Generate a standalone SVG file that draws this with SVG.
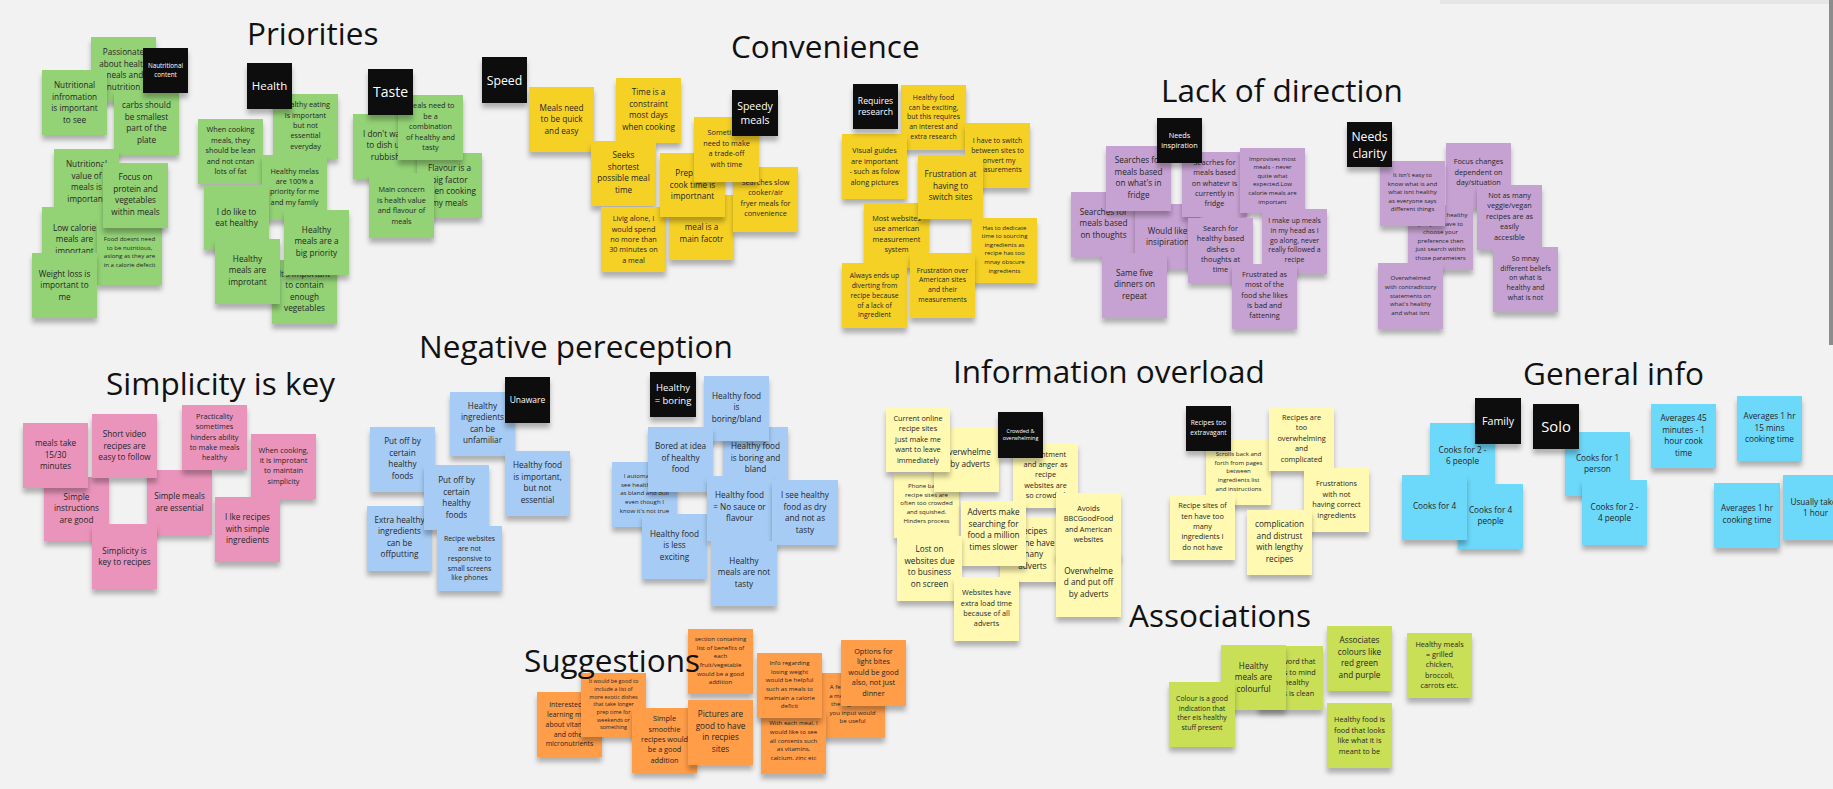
<svg xmlns="http://www.w3.org/2000/svg" width="1833" height="789" viewBox="0 0 1833 789">
<defs>
<filter id="sh" x="-15%" y="-15%" width="130%" height="140%"><feDropShadow dx="0" dy="5" stdDeviation="2.5" flood-color="#000" flood-opacity="0.28"/></filter>
<style>
text{font-family:"Open Sans","Noto Sans","Liberation Sans",sans-serif;text-anchor:middle;fill:#262626}
.n rect{filter:url(#sh)}
.g rect{fill:#93d275}.y rect{fill:#f5d128}.v rect{fill:#c6a2d2}.p rect{fill:#ea94bb}.lb rect{fill:#a6ccf5}.ly rect{fill:#fff9b1}.b rect{fill:#6cd8fa}.o rect{fill:#ff9d48}.l rect{fill:#c9df56}.k rect{fill:#0b0b0b}
.k text{fill:#fff}
.title{font-size:31.5px;text-anchor:start;fill:#111}
.t8{font-size:8.2px}.t7{font-size:7.3px}.t69{font-size:6.9px}.t6{font-size:6.1px}.t55{font-size:5.5px}
</style>
</defs>
<rect width="1833" height="789" fill="#f2f2f2"/>
<rect x="1440" y="0" width="389" height="4" fill="#e6e6e6"/>
<rect x="1829" y="0" width="4" height="345" fill="#8c8c8c"/>

<!-- Priorities -->
<g id="n-passionate" class="n g"><rect x="91" y="37" width="65" height="65"/><text class="t8" y="55"><tspan x="123.5">Passionate</tspan><tspan x="123.5" dy="11.5">about health</tspan><tspan x="123.5" dy="11.5">meals and</tspan><tspan x="123.5" dy="11.5">nutrition</tspan></text></g>
<g id="n-carbs" class="n g"><rect x="114" y="90" width="65" height="65"/><text class="t8" y="108"><tspan x="146.5">carbs should</tspan><tspan x="146.5" dy="11.5">be smallest</tspan><tspan x="146.5" dy="11.5">part of the</tspan><tspan x="146.5" dy="11.5">plate</tspan></text></g>
<g id="n-nutinfo" class="n g"><rect x="42" y="70" width="65" height="65"/><text class="t8" y="88"><tspan x="74.5">Nutritional</tspan><tspan x="74.5" dy="11.5">infromation</tspan><tspan x="74.5" dy="11.5">is important</tspan><tspan x="74.5" dy="11.5">to see</tspan></text></g>
<g id="k-nutcontent" class="n k"><rect x="143" y="48" width="45" height="45"/><text style="font-size:6.3px" y="68.3"><tspan x="165.5">Nautritional</tspan><tspan x="165.5" dy="8.7">content</tspan></text></g>
<g id="n-nutval" class="n g"><rect x="54" y="149" width="65" height="65"/><text class="t8" y="167"><tspan x="86.5">Nutritional</tspan><tspan x="86.5" dy="11.5">value of</tspan><tspan x="86.5" dy="11.5">meals is</tspan><tspan x="86.5" dy="11.5">important</tspan></text></g>
<g id="n-lowcal" class="n g"><rect x="42" y="207" width="65" height="65"/><text class="t8" y="230.8"><tspan x="74.5">Low calorie</tspan><tspan x="74.5" dy="11.5">meals are</tspan><tspan x="74.5" dy="11.5">important</tspan></text></g>
<g id="n-fooddoesnt" class="n g"><rect x="97" y="220" width="65" height="65"/><text class="t6" y="241.2"><tspan x="129.5">Food doesnt need</tspan><tspan x="129.5" dy="8.6">to be nutritious,</tspan><tspan x="129.5" dy="8.6">aslong as they are</tspan><tspan x="129.5" dy="8.6">in a calorie defecit</tspan></text></g>
<g id="n-focus" class="n g"><rect x="103" y="163" width="65" height="65"/><text class="t8" y="180"><tspan x="135.5">Focus on</tspan><tspan x="135.5" dy="11.5">protein and</tspan><tspan x="135.5" dy="11.5">vegetables</tspan><tspan x="135.5" dy="11.5">within meals</tspan></text></g>
<g id="n-weight" class="n g"><rect x="32" y="253" width="65" height="65"/><text class="t8" y="276.8"><tspan x="64.5">Weight loss is</tspan><tspan x="64.5" dy="11.5">important to</tspan><tspan x="64.5" dy="11.5">me</tspan></text></g>

<g id="n-heat" class="n g"><rect x="273" y="94" width="65" height="65"/><text class="t7" y="107.2"><tspan x="305.5">Healthy eating</tspan><tspan x="305.5" dy="10.4">is important</tspan><tspan x="305.5" dy="10.4">but not</tspan><tspan x="305.5" dy="10.4">essential</tspan><tspan x="305.5" dy="10.4">everyday</tspan></text></g>
<g id="k-health" class="n k"><rect x="247" y="63" width="45" height="46"/><text style="font-size:11.5px" x="269.5" y="90">Health</text></g>
<g id="n-whencook" class="n g"><rect x="198" y="119" width="65" height="65"/><text class="t7" y="132.4"><tspan x="230.5">When cooking</tspan><tspan x="230.5" dy="10.4">meals, they</tspan><tspan x="230.5" dy="10.4">should be lean</tspan><tspan x="230.5" dy="10.4">and not cntan</tspan><tspan x="230.5" dy="10.4">lots of fat</tspan></text></g>
<g id="n-melas" class="n g"><rect x="262" y="155" width="65" height="65"/><text class="t7" y="173.6"><tspan x="294.5">Healthy melas</tspan><tspan x="294.5" dy="10.4">are 100% a</tspan><tspan x="294.5" dy="10.4">priority for me</tspan><tspan x="294.5" dy="10.4">and my family</tspan></text></g>
<g id="n-dolike" class="n g"><rect x="204" y="185" width="65" height="65"/><text class="t8" y="214.5"><tspan x="236.5">I do like to</tspan><tspan x="236.5" dy="11.5">eat healthy</tspan></text></g>
<g id="n-contain" class="n g"><rect x="272" y="260" width="65" height="64"/><text class="t8" y="276.5"><tspan x="304.5">It's important</tspan><tspan x="304.5" dy="11.5">to contain</tspan><tspan x="304.5" dy="11.5">enough</tspan><tspan x="304.5" dy="11.5">vegetables</tspan></text></g>
<g id="n-bigprio" class="n g"><rect x="284" y="210" width="65" height="65"/><text class="t8" y="232.6"><tspan x="316.5">Healthy</tspan><tspan x="316.5" dy="11.5">meals are a</tspan><tspan x="316.5" dy="11.5">big priority</tspan></text></g>
<g id="n-improtant" class="n g"><rect x="215" y="239" width="65" height="65"/><text class="t8" y="261.6"><tspan x="247.5">Healthy</tspan><tspan x="247.5" dy="11.5">meals are</tspan><tspan x="247.5" dy="11.5">improtant</tspan></text></g>

<g id="n-dontwant" class="n g"><rect x="353" y="114" width="65" height="65"/><text class="t8" y="136.6"><tspan x="385.5">I don't want</tspan><tspan x="385.5" dy="11.5">to dish up</tspan><tspan x="385.5" dy="11.5">rubbish</tspan></text></g>
<g id="n-flavour" class="n g"><rect x="417" y="153" width="65" height="65"/><text class="t8" y="171"><tspan x="449.5">Flavour is a</tspan><tspan x="449.5" dy="11.5">big factor</tspan><tspan x="449.5" dy="11.5">when cooking</tspan><tspan x="449.5" dy="11.5">my meals</tspan></text></g>
<g id="n-combo" class="n g"><rect x="398" y="95" width="65" height="65"/><text class="t7" y="108.4"><tspan x="430.5">Meals need to</tspan><tspan x="430.5" dy="10.4">be a</tspan><tspan x="430.5" dy="10.4">combination</tspan><tspan x="430.5" dy="10.4">of healthy and</tspan><tspan x="430.5" dy="10.4">tasty</tspan></text></g>
<g id="n-mainconcern" class="n g"><rect x="369" y="173" width="65" height="65"/><text class="t7" y="192.4"><tspan x="401.5">Main concern</tspan><tspan x="401.5" dy="10.4">is health value</tspan><tspan x="401.5" dy="10.4">and flavour of</tspan><tspan x="401.5" dy="10.4">meals</tspan></text></g>
<g id="k-taste" class="n k"><rect x="368" y="69" width="45" height="46"/><text style="font-size:14px" x="390.5" y="96.7">Taste</text></g>

<!-- Convenience -->
<g id="k-speed" class="n k"><rect x="482" y="57" width="45" height="46"/><text style="font-size:12.3px" x="504.5" y="84.7">Speed</text></g>
<g id="n-quick" class="n y"><rect x="529" y="87" width="65" height="65"/><text class="t8" y="110.8"><tspan x="561.5">Meals need</tspan><tspan x="561.5" dy="11.5">to be quick</tspan><tspan x="561.5" dy="11.5">and easy</tspan></text></g>
<g id="n-time" class="n y"><rect x="616" y="78" width="65" height="65"/><text class="t8" y="95.2"><tspan x="648.5">Time is a</tspan><tspan x="648.5" dy="11.5">constraint</tspan><tspan x="648.5" dy="11.5">most days</tspan><tspan x="648.5" dy="11.5">when cooking</tspan></text></g>
<g id="n-seeks" class="n y"><rect x="591" y="141" width="65" height="65"/><text class="t8" y="158"><tspan x="623.5">Seeks</tspan><tspan x="623.5" dy="11.5">shortest</tspan><tspan x="623.5" dy="11.5">possible meal</tspan><tspan x="623.5" dy="11.5">time</tspan></text></g>
<g id="n-livig" class="n y"><rect x="601" y="207" width="65" height="65"/><text class="t7" y="221.2"><tspan x="633.5">Livig alone, I</tspan><tspan x="633.5" dy="10.4">would spend</tspan><tspan x="633.5" dy="10.4">no more than</tspan><tspan x="633.5" dy="10.4">30 minutes on</tspan><tspan x="633.5" dy="10.4">a meal</tspan></text></g>
<g id="n-mainfactor" class="n y"><rect x="669" y="195" width="65" height="65"/><text class="t8" y="230.1"><tspan x="701.5">meal is a</tspan><tspan x="701.5" dy="11.5">main facotr</tspan></text></g>
<g id="n-prep" class="n y"><rect x="660" y="153" width="65" height="64"/><text class="t8" y="176"><tspan x="692.5">Prep and</tspan><tspan x="692.5" dy="11.5">cook time is</tspan><tspan x="692.5" dy="11.5">importnant</tspan></text></g>
<g id="n-slow" class="n y"><rect x="733" y="167" width="65" height="65"/><text class="t7" y="185"><tspan x="765.5">Searches slow</tspan><tspan x="765.5" dy="10.4">cooker/air</tspan><tspan x="765.5" dy="10.4">fryer meals for</tspan><tspan x="765.5" dy="10.4">convenience</tspan></text></g>
<g id="n-sometimes" class="n y"><rect x="694" y="117" width="65" height="65"/><text class="t7" y="135.3"><tspan x="726.5">Sometimes</tspan><tspan x="726.5" dy="10.4">need to make</tspan><tspan x="726.5" dy="10.4">a trade-off</tspan><tspan x="726.5" dy="10.4">with time</tspan></text></g>
<g id="k-speedy" class="n k"><rect x="732" y="90" width="46" height="46"/><text style="font-size:10.5px" y="109.5"><tspan x="755">Speedy</tspan><tspan x="755" dy="14.3">meals</tspan></text></g>

<g id="n-hfexciting" class="n y"><rect x="901" y="85" width="65" height="65"/><text class="t69" y="99.9"><tspan x="933.5">Healthy food</tspan><tspan x="933.5" dy="9.7">can be exciting,</tspan><tspan x="933.5" dy="9.7">but this requires</tspan><tspan x="933.5" dy="9.7">an interest and</tspan><tspan x="933.5" dy="9.7">extra research</tspan></text></g>
<g id="n-visual" class="n y"><rect x="842" y="134" width="65" height="65"/><text class="t7" y="153.4"><tspan x="874.5">Visual guides</tspan><tspan x="874.5" dy="10.4">are important</tspan><tspan x="874.5" dy="10.4">- such as folow</tspan><tspan x="874.5" dy="10.4">along pictures</tspan></text></g>
<g id="n-switch" class="n y"><rect x="965" y="123" width="65" height="65"/><text class="t69" y="143.2"><tspan x="997.5">I have to switch</tspan><tspan x="997.5" dy="9.7">between sites to</tspan><tspan x="997.5" dy="9.7">convert my</tspan><tspan x="997.5" dy="9.7">measurements</tspan></text></g>
<g id="n-mostweb" class="n y"><rect x="864" y="203" width="65" height="65"/><text class="t7" y="220.7"><tspan x="896.5">Most websites</tspan><tspan x="896.5" dy="10.4">use american</tspan><tspan x="896.5" dy="10.4">measurement</tspan><tspan x="896.5" dy="10.4">system</tspan></text></g>
<g id="n-frustswitch" class="n y"><rect x="918" y="155" width="65" height="64"/><text class="t8" y="177.3"><tspan x="950.5">Frustration at</tspan><tspan x="950.5" dy="11.5">having to</tspan><tspan x="950.5" dy="11.5">switch sites</tspan></text></g>
<g id="n-dedicate" class="n y"><rect x="972" y="218" width="65" height="65"/><text class="t6" y="229.6"><tspan x="1004.5">Has to dedicate</tspan><tspan x="1004.5" dy="8.6">time to sourcing</tspan><tspan x="1004.5" dy="8.6">ingredients as</tspan><tspan x="1004.5" dy="8.6">recipe has too</tspan><tspan x="1004.5" dy="8.6">mnay obscure</tspan><tspan x="1004.5" dy="8.6">ingredients</tspan></text></g>
<g id="n-always" class="n y"><rect x="842" y="263" width="65" height="65"/><text class="t69" y="278.4"><tspan x="874.5">Always ends up</tspan><tspan x="874.5" dy="9.7">diverting from</tspan><tspan x="874.5" dy="9.7">recipe because</tspan><tspan x="874.5" dy="9.7">of a lack of</tspan><tspan x="874.5" dy="9.7">ingredient</tspan></text></g>
<g id="n-frustamerican" class="n y"><rect x="910" y="253" width="65" height="65"/><text class="t69" y="272.6"><tspan x="942.5">Frustration over</tspan><tspan x="942.5" dy="9.7">American sites</tspan><tspan x="942.5" dy="9.7">and their</tspan><tspan x="942.5" dy="9.7">measurements</tspan></text></g>
<g id="k-reqres" class="n k"><rect x="853" y="84" width="45" height="45"/><text style="font-size:8.6px" y="103.8"><tspan x="875.5">Requires</tspan><tspan x="875.5" dy="11.6">research</tspan></text></g>

<!-- Lack of direction -->
<g id="n-sthoughts" class="n v"><rect x="1071" y="192" width="65" height="65"/><text class="t8" y="214.6"><tspan x="1103.5">Searches for</tspan><tspan x="1103.5" dy="11.5">meals based</tspan><tspan x="1103.5" dy="11.5">on thoughts</tspan></text></g>
<g id="n-wouldlike" class="n v"><rect x="1135" y="204" width="65" height="65"/><text class="t8" y="233.5"><tspan x="1167.5">Would like</tspan><tspan x="1167.5" dy="11.5">insipiration</tspan></text></g>
<g id="n-sfridge" class="n v"><rect x="1106" y="146" width="65" height="65"/><text class="t8" y="163.1"><tspan x="1138.5">Searches for</tspan><tspan x="1138.5" dy="11.5">meals based</tspan><tspan x="1138.5" dy="11.5">on what's in</tspan><tspan x="1138.5" dy="11.5">fridge</tspan></text></g>
<g id="n-swhatevr" class="n v"><rect x="1182" y="152" width="65" height="65"/><text class="t7" y="164.7"><tspan x="1214.5">Seacrhes for</tspan><tspan x="1214.5" dy="10.4">meals based</tspan><tspan x="1214.5" dy="10.4">on whatevr is</tspan><tspan x="1214.5" dy="10.4">currently in</tspan><tspan x="1214.5" dy="10.4">fridge</tspan></text></g>
<g id="n-improvises" class="n v"><rect x="1240" y="148" width="65" height="65"/><text class="t6" y="160.6"><tspan x="1272.5">Improvises most</tspan><tspan x="1272.5" dy="8.6">meals - never</tspan><tspan x="1272.5" dy="8.6">quite what</tspan><tspan x="1272.5" dy="8.6">expected.Low</tspan><tspan x="1272.5" dy="8.6">calorie meals are</tspan><tspan x="1272.5" dy="8.6">important</tspan></text></g>
<g id="n-shealthy" class="n v"><rect x="1188" y="218" width="65" height="65"/><text class="t7" y="230.7"><tspan x="1220.5">Search for</tspan><tspan x="1220.5" dy="10.4">healthy based</tspan><tspan x="1220.5" dy="10.4">dishes o</tspan><tspan x="1220.5" dy="10.4">thoughts at</tspan><tspan x="1220.5" dy="10.4">time</tspan></text></g>
<g id="n-makeup" class="n v"><rect x="1262" y="209" width="65" height="65"/><text class="t69" y="223.3"><tspan x="1294.5">I make up meals</tspan><tspan x="1294.5" dy="9.7">in my head as I</tspan><tspan x="1294.5" dy="9.7">go along, never</tspan><tspan x="1294.5" dy="9.7">really followed a</tspan><tspan x="1294.5" dy="9.7">recipe</tspan></text></g>
<g id="n-samefive" class="n v"><rect x="1102" y="253" width="65" height="65"/><text class="t8" y="275.9"><tspan x="1134.5">Same five</tspan><tspan x="1134.5" dy="11.5">dinners on</tspan><tspan x="1134.5" dy="11.5">repeat</tspan></text></g>
<g id="n-frustrated" class="n v"><rect x="1232" y="264" width="65" height="65"/><text class="t7" y="276.7"><tspan x="1264.5">Frustrated as</tspan><tspan x="1264.5" dy="10.4">most of the</tspan><tspan x="1264.5" dy="10.4">food she likes</tspan><tspan x="1264.5" dy="10.4">is bad and</tspan><tspan x="1264.5" dy="10.4">fattening</tspan></text></g>
<g id="k-needsinsp" class="n k"><rect x="1157" y="118" width="45" height="45"/><text style="font-size:7.3px" y="138.2"><tspan x="1179.5">Needs</tspan><tspan x="1179.5" dy="9.6">inspiration</tspan></text></g>

<g id="n-focuschanges" class="n v"><rect x="1446" y="143" width="65" height="65"/><text class="t7" y="164.4"><tspan x="1478.5">Focus changes</tspan><tspan x="1478.5" dy="10.4">dependent on</tspan><tspan x="1478.5" dy="10.4">day/situation</tspan></text></g>
<g id="n-healthyhave" class="n v"><rect x="1408" y="205" width="65" height="65"/><text class="t6" y="217"><tspan x="1440.5">If you want healthy</tspan><tspan x="1440.5" dy="8.6">you just have to</tspan><tspan x="1440.5" dy="8.6">choose your</tspan><tspan x="1440.5" dy="8.6">preference then</tspan><tspan x="1440.5" dy="8.6">just search within</tspan><tspan x="1440.5" dy="8.6">those parameters</tspan></text></g>
<g id="n-isnteasy" class="n v"><rect x="1380" y="161" width="65" height="65"/><text class="t6" y="176.9"><tspan x="1412.5">It isn't easy to</tspan><tspan x="1412.5" dy="8.6">know what is and</tspan><tspan x="1412.5" dy="8.6">what isnt healthy</tspan><tspan x="1412.5" dy="8.6">as everyone says</tspan><tspan x="1412.5" dy="8.6">different things</tspan></text></g>
<g id="n-notasmany" class="n v"><rect x="1477" y="185" width="65" height="65"/><text class="t7" y="198"><tspan x="1509.5">Not as many</tspan><tspan x="1509.5" dy="10.4">veggie/vegan</tspan><tspan x="1509.5" dy="10.4">recipes are as</tspan><tspan x="1509.5" dy="10.4">easily</tspan><tspan x="1509.5" dy="10.4">accesible</tspan></text></g>
<g id="n-overcontra" class="n v"><rect x="1378" y="263" width="65" height="66"/><text class="t6" y="280.4"><tspan x="1410.5">Overwhelmed</tspan><tspan x="1410.5" dy="8.6">with contradictory</tspan><tspan x="1410.5" dy="8.6">statements on</tspan><tspan x="1410.5" dy="8.6">what's healthy</tspan><tspan x="1410.5" dy="8.6">and what isnt</tspan></text></g>
<g id="n-somnay" class="n v"><rect x="1493" y="247" width="65" height="65"/><text class="t69" y="260.9"><tspan x="1525.5">So mnay</tspan><tspan x="1525.5" dy="9.7">different beliefs</tspan><tspan x="1525.5" dy="9.7">on what is</tspan><tspan x="1525.5" dy="9.7">healthy and</tspan><tspan x="1525.5" dy="9.7">what is not</tspan></text></g>
<g id="k-needsclarity" class="n k"><rect x="1347" y="122" width="45" height="45"/><text style="font-size:12.2px" y="140.7"><tspan x="1369.5">Needs</tspan><tspan x="1369.5" dy="17.4">clarity</tspan></text></g>

<!-- Simplicity is key -->
<g id="n-simpleinstr" class="n p"><rect x="44" y="477" width="65" height="64"/><text class="t8" y="499.6"><tspan x="76.5">Simple</tspan><tspan x="76.5" dy="11.5">instructions</tspan><tspan x="76.5" dy="11.5">are good</tspan></text></g>
<g id="n-mealstake" class="n p"><rect x="23" y="423" width="65" height="65"/><text class="t8" y="446.3"><tspan x="55.5">meals take</tspan><tspan x="55.5" dy="11.5">15/30</tspan><tspan x="55.5" dy="11.5">minutes</tspan></text></g>
<g id="n-simplemeals" class="n p"><rect x="147" y="470" width="65" height="65"/><text class="t8" y="499"><tspan x="179.5">Simple meals</tspan><tspan x="179.5" dy="11.5">are essential</tspan></text></g>
<g id="n-shortvideo" class="n p"><rect x="92" y="414" width="65" height="64"/><text class="t8" y="437"><tspan x="124.5">Short video</tspan><tspan x="124.5" dy="11.5">recipes are</tspan><tspan x="124.5" dy="11.5">easy to follow</tspan></text></g>
<g id="n-practicality" class="n p"><rect x="182" y="405" width="65" height="65"/><text class="t7" y="418.7"><tspan x="214.5">Practicality</tspan><tspan x="214.5" dy="10.4">sometimes</tspan><tspan x="214.5" dy="10.4">hinders ability</tspan><tspan x="214.5" dy="10.4">to make meals</tspan><tspan x="214.5" dy="10.4">healthy</tspan></text></g>
<g id="n-whencooksimp" class="n p"><rect x="251" y="434" width="65" height="65"/><text class="t7" y="452.5"><tspan x="283.5">When cooking,</tspan><tspan x="283.5" dy="10.4">it is improtant</tspan><tspan x="283.5" dy="10.4">to maintain</tspan><tspan x="283.5" dy="10.4">simplicity</tspan></text></g>
<g id="n-ilke" class="n p"><rect x="215" y="497" width="65" height="65"/><text class="t8" y="520"><tspan x="247.5">I lke recipes</tspan><tspan x="247.5" dy="11.5">with simple</tspan><tspan x="247.5" dy="11.5">ingredients</tspan></text></g>
<g id="n-simpkey" class="n p"><rect x="92" y="524" width="65" height="65"/><text class="t8" y="553.5"><tspan x="124.5">Simplicity is</tspan><tspan x="124.5" dy="11.5">key to recipes</tspan></text></g>

<!-- Negative perception -->
<g id="n-putoff1" class="n lb"><rect x="370" y="427" width="65" height="65"/><text class="t8" y="444.2"><tspan x="402.5">Put off by</tspan><tspan x="402.5" dy="11.5">certain</tspan><tspan x="402.5" dy="11.5">healthy</tspan><tspan x="402.5" dy="11.5">foods</tspan></text></g>
<g id="n-healthyingr" class="n lb"><rect x="450" y="392" width="65" height="64"/><text class="t8" y="408.6"><tspan x="482.5">Healthy</tspan><tspan x="482.5" dy="11.5">ingredients</tspan><tspan x="482.5" dy="11.5">can be</tspan><tspan x="482.5" dy="11.5">unfamiliar</tspan></text></g>
<g id="n-extra" class="n lb"><rect x="367" y="506" width="65" height="65"/><text class="t8" y="522.9"><tspan x="399.5">Extra healthy</tspan><tspan x="399.5" dy="11.5">ingredients</tspan><tspan x="399.5" dy="11.5">can be</tspan><tspan x="399.5" dy="11.5">offputting</tspan></text></g>
<g id="n-putoff2" class="n lb"><rect x="424" y="465" width="65" height="65"/><text class="t8" y="483"><tspan x="456.5">Put off by</tspan><tspan x="456.5" dy="11.5">certain</tspan><tspan x="456.5" dy="11.5">healthy</tspan><tspan x="456.5" dy="11.5">foods</tspan></text></g>
<g id="n-recipeweb" class="n lb"><rect x="437" y="526" width="65" height="65"/><text class="t69" y="541.4"><tspan x="469.5">Recipe websites</tspan><tspan x="469.5" dy="9.7">are not</tspan><tspan x="469.5" dy="9.7">responsive to</tspan><tspan x="469.5" dy="9.7">small screens</tspan><tspan x="469.5" dy="9.7">like phones</tspan></text></g>
<g id="n-hfimportant" class="n lb"><rect x="505" y="451" width="65" height="65"/><text class="t8" y="468"><tspan x="537.5">Healthy food</tspan><tspan x="537.5" dy="11.5">is important,</tspan><tspan x="537.5" dy="11.5">but not</tspan><tspan x="537.5" dy="11.5">essential</tspan></text></g>
<g id="k-unaware" class="n k"><rect x="505" y="377" width="45" height="46"/><text style="font-size:8.5px" x="527.5" y="402.8">Unaware</text></g>

<g id="n-boringandbland" class="n lb"><rect x="723" y="427" width="65" height="65"/><text class="t8" y="449.4"><tspan x="755.5">Healthy food</tspan><tspan x="755.5" dy="11.5">is boring and</tspan><tspan x="755.5" dy="11.5">bland</tspan></text></g>
<g id="n-boringbland" class="n lb"><rect x="704" y="376" width="65" height="65"/><text class="t8" y="398.5"><tspan x="736.5">Healthy food</tspan><tspan x="736.5" dy="11.5">is</tspan><tspan x="736.5" dy="11.5">boring/bland</tspan></text></g>
<g id="n-iauto" class="n lb"><rect x="612" y="462" width="65" height="65"/><text class="t6" y="478.2"><tspan x="644.5">I automatically</tspan><tspan x="644.5" dy="8.6">see healthy food</tspan><tspan x="644.5" dy="8.6">as bland and dull</tspan><tspan x="644.5" dy="8.6">even though I</tspan><tspan x="644.5" dy="8.6">know it's not true</tspan></text></g>
<g id="n-bored" class="n lb"><rect x="648" y="427" width="65" height="65"/><text class="t8" y="449.4"><tspan x="680.5">Bored at idea</tspan><tspan x="680.5" dy="11.5">of healthy</tspan><tspan x="680.5" dy="11.5">food</tspan></text></g>
<g id="n-lessexciting" class="n lb"><rect x="642" y="514" width="65" height="65"/><text class="t8" y="536.6"><tspan x="674.5">Healthy food</tspan><tspan x="674.5" dy="11.5">is less</tspan><tspan x="674.5" dy="11.5">exciting</tspan></text></g>
<g id="n-nosauce" class="n lb"><rect x="707" y="476" width="65" height="65"/><text class="t8" y="498.3"><tspan x="739.5">Healthy food</tspan><tspan x="739.5" dy="11.5">= No sauce or</tspan><tspan x="739.5" dy="11.5">flavour</tspan></text></g>
<g id="n-iseehealthy" class="n lb"><rect x="772" y="480" width="66" height="65"/><text class="t8" y="498"><tspan x="805">I see healthy</tspan><tspan x="805" dy="11.5">food as dry</tspan><tspan x="805" dy="11.5">and not as</tspan><tspan x="805" dy="11.5">tasty</tspan></text></g>
<g id="n-nottasty" class="n lb"><rect x="711" y="541" width="66" height="65"/><text class="t8" y="563.7"><tspan x="744">Healthy</tspan><tspan x="744" dy="11.5">meals are not</tspan><tspan x="744" dy="11.5">tasty</tspan></text></g>
<g id="k-hboring" class="n k"><rect x="650" y="372" width="46" height="45"/><text style="font-size:9.5px" y="391.4"><tspan x="673">Healthy</tspan><tspan x="673" dy="13">= boring</tspan></text></g>

<!-- Information overload -->
<g id="n-phone" class="n ly"><rect x="894" y="473" width="65" height="65"/><text class="t6" y="488.2"><tspan x="926.5">Phone based</tspan><tspan x="926.5" dy="8.6">recipe sites are</tspan><tspan x="926.5" dy="8.6">often too crowded</tspan><tspan x="926.5" dy="8.6">and squished.</tspan><tspan x="926.5" dy="8.6">Hinders process</tspan></text></g>
<g id="n-oba" class="n ly"><rect x="934" y="427" width="65" height="65"/><text class="t8" y="455.2"><tspan x="966.5">Overwhelme</tspan><tspan x="966.5" dy="11.5">d by adverts</tspan></text></g>
<g id="n-current" class="n ly"><rect x="886" y="408" width="64" height="64"/><text class="t7" y="421"><tspan x="918">Current online</tspan><tspan x="918" dy="10.4">recipe sites</tspan><tspan x="918" dy="10.4">just make me</tspan><tspan x="918" dy="10.4">want to leave</tspan><tspan x="918" dy="10.4">immediately</tspan></text></g>
<g id="n-resent" class="n ly"><rect x="1013" y="443" width="65" height="65"/><text class="t7" y="456.6"><tspan x="1045.5">Resentment</tspan><tspan x="1045.5" dy="10.4">and anger as</tspan><tspan x="1045.5" dy="10.4">recipe</tspan><tspan x="1045.5" dy="10.4">websites are</tspan><tspan x="1045.5" dy="10.4">so crowded</tspan></text></g>
<g id="k-crowded" class="n k"><rect x="998" y="412" width="45" height="46"/><text style="font-size:5.4px" y="432.6"><tspan x="1020.5">Crowded &amp;</tspan><tspan x="1020.5" dy="7.3">overwhelming</tspan></text></g>
<g id="n-reconline" class="n ly"><rect x="1000" y="517" width="65" height="65"/><text class="t8" y="534.4"><tspan x="1032.5">Recipes</tspan><tspan x="1032.5" dy="11.5">online have</tspan><tspan x="1032.5" dy="11.5">many</tspan><tspan x="1032.5" dy="11.5">adverts</tspan></text></g>
<g id="n-advertsmake" class="n ly"><rect x="961" y="501" width="65" height="65"/><text class="t8" y="515"><tspan x="993.5">Adverts make</tspan><tspan x="993.5" dy="11.5">searching for</tspan><tspan x="993.5" dy="11.5">food a million</tspan><tspan x="993.5" dy="11.5">times slower</tspan></text></g>
<g id="n-avoids" class="n ly"><rect x="1056" y="493" width="65" height="65"/><text class="t7" y="510.9"><tspan x="1088.5">Avoids</tspan><tspan x="1088.5" dy="10.4">BBCGoodFood</tspan><tspan x="1088.5" dy="10.4">and American</tspan><tspan x="1088.5" dy="10.4">websites</tspan></text></g>
<g id="n-opo" class="n ly"><rect x="1056" y="552" width="65" height="65"/><text class="t8" y="573.5"><tspan x="1088.5">Overwhelme</tspan><tspan x="1088.5" dy="11.5">d and put off</tspan><tspan x="1088.5" dy="11.5">by adverts</tspan></text></g>
<g id="n-loston" class="n ly"><rect x="897" y="536" width="65" height="65"/><text class="t8" y="552.2"><tspan x="929.5">Lost on</tspan><tspan x="929.5" dy="11.5">websites due</tspan><tspan x="929.5" dy="11.5">to business</tspan><tspan x="929.5" dy="11.5">on screen</tspan></text></g>
<g id="n-loadtime" class="n ly"><rect x="954" y="577" width="65" height="64"/><text class="t7" y="595.1"><tspan x="986.5">Websites have</tspan><tspan x="986.5" dy="10.4">extra load time</tspan><tspan x="986.5" dy="10.4">because of all</tspan><tspan x="986.5" dy="10.4">adverts</tspan></text></g>

<g id="n-scrolls" class="n ly"><rect x="1206" y="440" width="65" height="65"/><text class="t6" y="456.2"><tspan x="1238.5">Scrolls back and</tspan><tspan x="1238.5" dy="8.6">forth from pages</tspan><tspan x="1238.5" dy="8.6">between</tspan><tspan x="1238.5" dy="8.6">ingredients list</tspan><tspan x="1238.5" dy="8.6">and instructions</tspan></text></g>
<g id="k-extravagant" class="n k"><rect x="1186" y="406" width="45" height="45"/><text style="font-size:6.6px" y="425.3"><tspan x="1208.5">Recipes too</tspan><tspan x="1208.5" dy="9.3">extravagant</tspan></text></g>
<g id="n-rato" class="n ly"><rect x="1269" y="407" width="65" height="64"/><text class="t7" y="420"><tspan x="1301.5">Recipes are</tspan><tspan x="1301.5" dy="10.4">too</tspan><tspan x="1301.5" dy="10.4">overwhelming</tspan><tspan x="1301.5" dy="10.4">and</tspan><tspan x="1301.5" dy="10.4">complicated</tspan></text></g>
<g id="n-frustrations" class="n ly"><rect x="1304" y="468" width="65" height="64"/><text class="t7" y="486.4"><tspan x="1336.5">Frustrations</tspan><tspan x="1336.5" dy="10.4">with not</tspan><tspan x="1336.5" dy="10.4">having correct</tspan><tspan x="1336.5" dy="10.4">ingredients</tspan></text></g>
<g id="n-rsot" class="n ly"><rect x="1170" y="495" width="65" height="65"/><text class="t7" y="508.2"><tspan x="1202.5">Recipe sites of</tspan><tspan x="1202.5" dy="10.4">ten have too</tspan><tspan x="1202.5" dy="10.4">many</tspan><tspan x="1202.5" dy="10.4">ingredients I</tspan><tspan x="1202.5" dy="10.4">do not have</tspan></text></g>
<g id="n-complication" class="n ly"><rect x="1247" y="510" width="65" height="65"/><text class="t8" y="527"><tspan x="1279.5">complication</tspan><tspan x="1279.5" dy="11.5">and distrust</tspan><tspan x="1279.5" dy="11.5">with lengthy</tspan><tspan x="1279.5" dy="11.5">recipes</tspan></text></g>

<!-- General info -->
<g id="n-c26" class="n b"><rect x="1430" y="423" width="65" height="65"/><text class="t8" y="452.5"><tspan x="1462.5">Cooks for 2 -</tspan><tspan x="1462.5" dy="11.5">6 people</tspan></text></g>
<g id="n-c4p" class="n b"><rect x="1458" y="484" width="65" height="65"/><text class="t8" y="512.7"><tspan x="1490.5">Cooks for 4</tspan><tspan x="1490.5" dy="11.5">people</tspan></text></g>
<g id="n-c4" class="n b"><rect x="1402" y="475" width="65" height="65"/><text class="t8" x="1434.5" y="508.8">Cooks for 4</text></g>
<g id="k-family" class="n k"><rect x="1475" y="398" width="46" height="46"/><text style="font-size:10.7px" x="1498" y="424.8">Family</text></g>
<g id="n-c1" class="n b"><rect x="1565" y="432" width="65" height="64"/><text class="t8" y="460.5"><tspan x="1597.5">Cooks for 1</tspan><tspan x="1597.5" dy="11.5">person</tspan></text></g>
<g id="k-solo" class="n k"><rect x="1533" y="404" width="46" height="45"/><text style="font-size:14.8px" x="1556" y="432">Solo</text></g>
<g id="n-c24" class="n b"><rect x="1582" y="480" width="65" height="65"/><text class="t8" y="509.5"><tspan x="1614.5">Cooks for 2 -</tspan><tspan x="1614.5" dy="11.5">4 people</tspan></text></g>
<g id="n-a45" class="n b"><rect x="1651" y="404" width="65" height="64"/><text class="t8" y="421.2"><tspan x="1683.5">Averages 45</tspan><tspan x="1683.5" dy="11.5">minutes - 1</tspan><tspan x="1683.5" dy="11.5">hour cook</tspan><tspan x="1683.5" dy="11.5">time</tspan></text></g>
<g id="n-a115" class="n b"><rect x="1737" y="396" width="65" height="65"/><text class="t8" y="419.4"><tspan x="1769.5">Averages 1 hr</tspan><tspan x="1769.5" dy="11.5">15 mins</tspan><tspan x="1769.5" dy="11.5">cooking time</tspan></text></g>
<g id="n-a1h" class="n b"><rect x="1714" y="483" width="66" height="65"/><text class="t8" y="511.4"><tspan x="1747">Averages 1 hr</tspan><tspan x="1747" dy="11.5">cooking time</tspan></text></g>
<g id="n-usually" class="n b"><rect x="1783" y="475" width="65" height="65"/><text class="t8" y="504.5"><tspan x="1815.5">Usually takes</tspan><tspan x="1815.5" dy="11.5">1 hour</tspan></text></g>

<!-- Suggestions -->
<g id="n-interested" class="n o"><rect x="537" y="692" width="65" height="65"/><text class="t69" y="707.4"><tspan x="569.5">Interested in</tspan><tspan x="569.5" dy="9.7">learning more</tspan><tspan x="569.5" dy="9.7">about vitamins</tspan><tspan x="569.5" dy="9.7">and other</tspan><tspan x="569.5" dy="9.7">micronutrients</tspan></text></g>
<g id="n-iwbg" class="n o"><rect x="581" y="673" width="65" height="64"/><text class="t55" y="683.2"><tspan x="613.5">It would be good to</tspan><tspan x="613.5" dy="7.7">include a list of</tspan><tspan x="613.5" dy="7.7">more exotic dishes</tspan><tspan x="613.5" dy="7.7">that take longer</tspan><tspan x="613.5" dy="7.7">prep time for</tspan><tspan x="613.5" dy="7.7">weekends or</tspan><tspan x="613.5" dy="7.7">something</tspan></text></g>
<g id="n-smoothie" class="n o"><rect x="632" y="708" width="65" height="65"/><text class="t7" y="721.1"><tspan x="664.5">Simple</tspan><tspan x="664.5" dy="10.4">smoothie</tspan><tspan x="664.5" dy="10.4">recipes would</tspan><tspan x="664.5" dy="10.4">be a good</tspan><tspan x="664.5" dy="10.4">addition</tspan></text></g>
<g id="n-section" class="n o"><rect x="688" y="629" width="65" height="65"/><text class="t6" y="641.2"><tspan x="720.5">section containing</tspan><tspan x="720.5" dy="8.6">list of benefits of</tspan><tspan x="720.5" dy="8.6">each</tspan><tspan x="720.5" dy="8.6">fruit/vegetable</tspan><tspan x="720.5" dy="8.6">would be a good</tspan><tspan x="720.5" dy="8.6">addition</tspan></text></g>
<g id="n-pictures" class="n o"><rect x="688" y="700" width="65" height="65"/><text class="t8" y="717.1"><tspan x="720.5">Pictures are</tspan><tspan x="720.5" dy="11.5">good to have</tspan><tspan x="720.5" dy="11.5">in recpies</tspan><tspan x="720.5" dy="11.5">sites</tspan></text></g>
<g id="n-afeature" class="n o"><rect x="820" y="673" width="65" height="65"/><text class="t6" y="689"><tspan x="852.5">A feature where</tspan><tspan x="852.5" dy="8.6">a meal based on</tspan><tspan x="852.5" dy="8.6">the ingredients</tspan><tspan x="852.5" dy="8.6">you input would</tspan><tspan x="852.5" dy="8.6">be useful</tspan></text></g>
<g id="n-options" class="n o"><rect x="841" y="640" width="65" height="66"/><text class="t7" y="654"><tspan x="873.5">Options for</tspan><tspan x="873.5" dy="10.4">light bites</tspan><tspan x="873.5" dy="10.4">would be good</tspan><tspan x="873.5" dy="10.4">also, not just</tspan><tspan x="873.5" dy="10.4">dinner</tspan></text></g>
<g id="n-witheach" class="n o"><rect x="761" y="709" width="65" height="65"/><text class="t6" y="725.4"><tspan x="793.5">With each meal, I</tspan><tspan x="793.5" dy="8.6">would like to see</tspan><tspan x="793.5" dy="8.6">all contents such</tspan><tspan x="793.5" dy="8.6">as vitamins,</tspan><tspan x="793.5" dy="8.6">calcium, zinc etc</tspan></text></g>
<g id="n-inforegard" class="n o"><rect x="757" y="653" width="65" height="65"/><text class="t6" y="665.1"><tspan x="789.5">Info regarding</tspan><tspan x="789.5" dy="8.6">losing weight</tspan><tspan x="789.5" dy="8.6">would be helpful</tspan><tspan x="789.5" dy="8.6">such as meals to</tspan><tspan x="789.5" dy="8.6">maintain a calorie</tspan><tspan x="789.5" dy="8.6">deficit</tspan></text></g>

<!-- Associations -->
<g id="n-firstword" class="n l"><rect x="1258" y="646" width="65" height="64"/><text class="t7" y="664.4"><tspan x="1290.5">First word that</tspan><tspan x="1290.5" dy="10.4">comes to mind</tspan><tspan x="1290.5" dy="10.4">for healthy</tspan><tspan x="1290.5" dy="10.4">meals is clean</tspan></text></g>
<g id="n-colourful" class="n l"><rect x="1221" y="645" width="65" height="65"/><text class="t8" y="668.8"><tspan x="1253.5">Healthy</tspan><tspan x="1253.5" dy="11.5">meals are</tspan><tspan x="1253.5" dy="11.5">colourful</tspan></text></g>
<g id="n-colourgood" class="n l"><rect x="1169" y="682" width="66" height="65"/><text class="t69" y="701"><tspan x="1202">Colour is a good</tspan><tspan x="1202" dy="9.7">indication that</tspan><tspan x="1202" dy="9.7">ther eis healthy</tspan><tspan x="1202" dy="9.7">stuff present</tspan></text></g>
<g id="n-associates" class="n l"><rect x="1327" y="626" width="65" height="65"/><text class="t8" y="643.3"><tspan x="1359.5">Associates</tspan><tspan x="1359.5" dy="11.5">colours like</tspan><tspan x="1359.5" dy="11.5">red green</tspan><tspan x="1359.5" dy="11.5">and purple</tspan></text></g>
<g id="n-looks" class="n l"><rect x="1327" y="703" width="65" height="65"/><text class="t7" y="722.4"><tspan x="1359.5">Healthy food is</tspan><tspan x="1359.5" dy="10.4">food that looks</tspan><tspan x="1359.5" dy="10.4">like what it is</tspan><tspan x="1359.5" dy="10.4">meant to be</tspan></text></g>
<g id="n-grilled" class="n l"><rect x="1407" y="633" width="65" height="65"/><text class="t7" y="646.5"><tspan x="1439.5">Healthy meals</tspan><tspan x="1439.5" dy="10.4">= grilled</tspan><tspan x="1439.5" dy="10.4">chicken,</tspan><tspan x="1439.5" dy="10.4">broccoli,</tspan><tspan x="1439.5" dy="10.4">carrots etc.</tspan></text></g>

<!-- Titles -->
<g id="titles">
<text class="title" x="247" y="45">Priorities</text>
<text class="title" x="731" y="58">Convenience</text>
<text class="title" x="1161" y="102">Lack of direction</text>
<text class="title" x="106" y="395">Simplicity is key</text>
<text class="title" x="419" y="358">Negative pereception</text>
<text class="title" x="953" y="383">Information overload</text>
<text class="title" x="1523" y="385">General info</text>
<text class="title" x="524" y="672">Suggestions</text>
<text class="title" x="1129" y="627">Associations</text>
</g>
</svg>
